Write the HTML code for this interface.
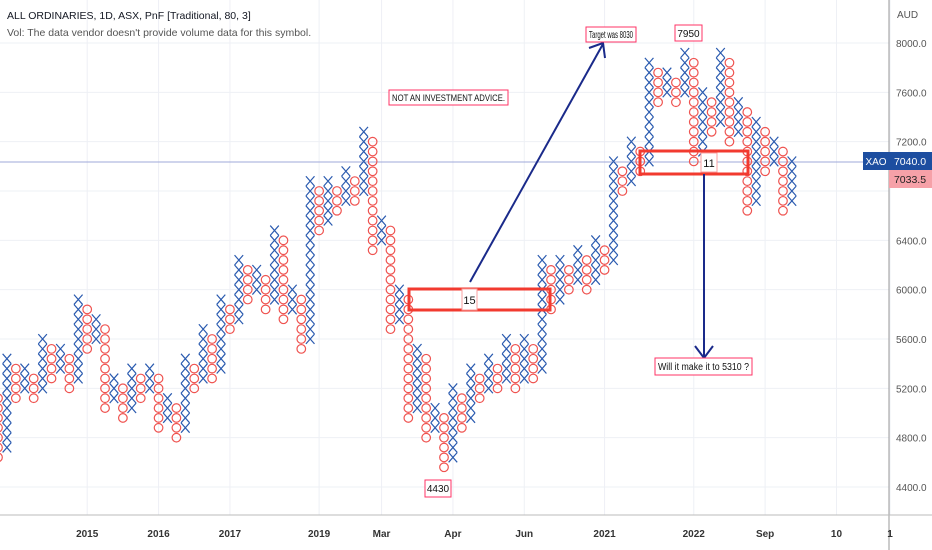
<!DOCTYPE html>
<html><head><meta charset="utf-8"><style>
body{margin:0;background:#fff;width:932px;height:550px;overflow:hidden;font-family:"Liberation Sans",sans-serif}
svg{display:block}
</style></head><body>
<svg id="chart" width="932" height="550" viewBox="0 0 932 550" xmlns="http://www.w3.org/2000/svg" font-family="Liberation Sans, sans-serif">
<g id="grid"></g>
<line x1="0" y1="162" x2="889" y2="162" stroke="#9fa8da" stroke-width="1"/>
<g id="cols"></g>
<g id="annot">
 <rect x="409" y="289" width="141" height="21" fill="none" stroke="#f23a2f" stroke-width="3"/>
 <rect x="462" y="289" width="15" height="21" fill="#fff" stroke="#f8a0a0" stroke-width="1"/>
 <text x="469.5" y="304" font-size="11" text-anchor="middle" fill="#111">15</text>
 <rect x="640" y="151" width="108" height="23" fill="none" stroke="#f23a2f" stroke-width="3"/>
 <rect x="701" y="153" width="16" height="19" fill="#fff" stroke="#f8a0a0" stroke-width="1"/>
 <text x="709" y="167" font-size="11" text-anchor="middle" fill="#111">11</text>
 <line x1="470" y1="282" x2="603" y2="44" stroke="#1a2a8a" stroke-width="2"/>
 <polyline points="589,48 603,43 605,58" fill="none" stroke="#1a2a8a" stroke-width="2"/>
 <line x1="704" y1="174" x2="704" y2="358" stroke="#1a2a8a" stroke-width="2"/>
 <polyline points="695,346 704,358 713,346" fill="none" stroke="#1a2a8a" stroke-width="2"/>
 <rect x="389" y="90" width="119" height="15" fill="#fff" stroke="#f36" stroke-width="1"/>
 <text x="392" y="101" font-size="9.5" textLength="113" lengthAdjust="spacingAndGlyphs" fill="#111">NOT AN INVESTMENT ADVICE.</text>
 <rect x="586" y="27" width="50" height="15" fill="#fff" stroke="#f36" stroke-width="1"/>
 <text x="589" y="38" font-size="10" textLength="44" lengthAdjust="spacingAndGlyphs" fill="#111">Target was 8030</text>
 <rect x="675" y="25" width="27" height="16" fill="#fff" stroke="#f36" stroke-width="1"/>
 <text x="688.5" y="37" font-size="10" text-anchor="middle" fill="#111">7950</text>
 <rect x="655" y="358" width="97" height="17" fill="#fff" stroke="#f36" stroke-width="1"/>
 <text x="658" y="370" font-size="10" textLength="91" lengthAdjust="spacingAndGlyphs" fill="#111">Will it make it to 5310 ?</text>
 <rect x="425" y="480" width="26" height="17" fill="#fff" stroke="#f36" stroke-width="1"/>
 <text x="438" y="492" font-size="10" text-anchor="middle" fill="#111">4430</text>
</g>
<text x="7" y="19" font-size="10.5" fill="#131722">ALL ORDINARIES, 1D, ASX, PnF [Traditional, 80, 3]</text>
<text x="7" y="36" font-size="10.5" fill="#555">Vol: The data vendor doesn't provide volume data for this symbol.</text>
<line x1="889" y1="0" x2="889" y2="550" stroke="#999" stroke-width="1"/>
<line x1="0" y1="515" x2="932" y2="515" stroke="#bbb" stroke-width="1"/>
<text x="897" y="18" font-size="10" fill="#555">AUD</text>
<g id="yticks"></g>
<g id="xticks"></g>
<rect x="863" y="152" width="26" height="18" fill="#1d4ea0"/>
<text x="876" y="165" font-size="10" fill="#fff" text-anchor="middle">XAO</text>
<rect x="889" y="152" width="43" height="18" fill="#1d4ea0"/>
<text x="910" y="165" font-size="10.5" fill="#fff" text-anchor="middle">7040.0</text>
<rect x="889" y="170" width="43" height="18" fill="#f6a1a8"/>
<text x="910" y="183" font-size="10.5" fill="#222" text-anchor="middle">7033.5</text>
</svg>
<script>
const boxSize = 80;
const colLow = [58,59,64,65,64,65,66,67,65,66,69,70,63,64,62,63,64,65,61,62,60,61,65,66,66,67,71,72,74,75,73,74,72,73,69,70,81,82,83,84,84,85,79,80,71,72,62,63,60,61,57,58,61,62,64,65,65,66,65,66,66,67,73,74,75,76,75,76,77,78,85,86,87,88,94,95,94,95,88,89,91,92,90,91,83,84,87,88,83,84];
const colHigh = [64,68,67,67,66,70,69,69,68,74,73,72,71,66,65,67,66,67,66,64,63,68,67,71,70,74,73,78,77,77,76,81,80,75,74,86,85,86,85,87,86,91,90,82,81,75,74,69,68,63,62,65,64,67,66,68,67,70,69,70,69,78,77,78,77,79,78,80,79,88,87,90,89,98,97,97,96,99,98,95,94,99,98,94,93,92,91,90,89,88];
const firstColType = "O";
const yTickLabels = [8000,7600,7200,6800,6400,6000,5600,5200,4800,4400];
const xTickLabels = ["2015","2016","2017","2019","Mar","Apr","Jun","2021","2022","Sep","10","1"];
const xTickCol = [10,18,26,36,43,51,59,68,78,86,94,100];

const NS="http://www.w3.org/2000/svg";
function yScale(p){return 43+(8000-p)*0.123333;}
function xScale(i){return -2+8.92*i;}
function mk(tag,attrs,parent){const e=document.createElementNS(NS,tag);for(const k in attrs)e.setAttribute(k,attrs[k]);parent.appendChild(e);return e;}
const grid=document.getElementById('grid'), cols=document.getElementById('cols');
const yt=document.getElementById('yticks'), xt=document.getElementById('xticks');
yTickLabels.forEach(v=>{
  const y=yScale(v);
  const g=mk('line',{x1:0,y1:y,x2:889,y2:y,stroke:'#eef0f5','stroke-width':1},grid);
  
  
  if(v===6800) return;
  const t=mk('text',{x:896,y:y+4,'font-size':10,fill:'#555'},yt);
  t.textContent=v.toFixed(1);
  
  
});
xTickLabels.forEach((lab,k)=>{
  const x=xScale(xTickCol[k]);
  const g=mk('line',{x1:x,y1:0,x2:x,y2:515,stroke:'#eef0f5','stroke-width':1},grid);
  
  
  const t=mk('text',{x:x,y:537,'font-size':10,fill:'#333','text-anchor':'middle','font-weight':'bold'},xt);
  t.textContent=lab;
  
  
});
colLow.forEach((lo,i)=>{
  const hi=colHigh[i];
  const isO = (i%2===0) === (firstColType==="O");
  const cx=xScale(i);
  const g=mk('g',{},cols);
  
  
  for(let L=lo;L<=hi;L++){
    const cy=yScale(L*boxSize);
    if(isO){
      mk('circle',{cx:cx,cy:cy,r:4.3,fill:'none',stroke:'#ef5350','stroke-width':1.2},g);
    }else{
      mk('path',{d:`M${cx-4.3},${cy-4.9}L${cx+4.3},${cy+4.9}M${cx+4.3},${cy-4.9}L${cx-4.3},${cy+4.9}`,stroke:'#2a5aaf','stroke-width':1.2,fill:'none'},g);
    }
  }
});
</script>
</body></html>
